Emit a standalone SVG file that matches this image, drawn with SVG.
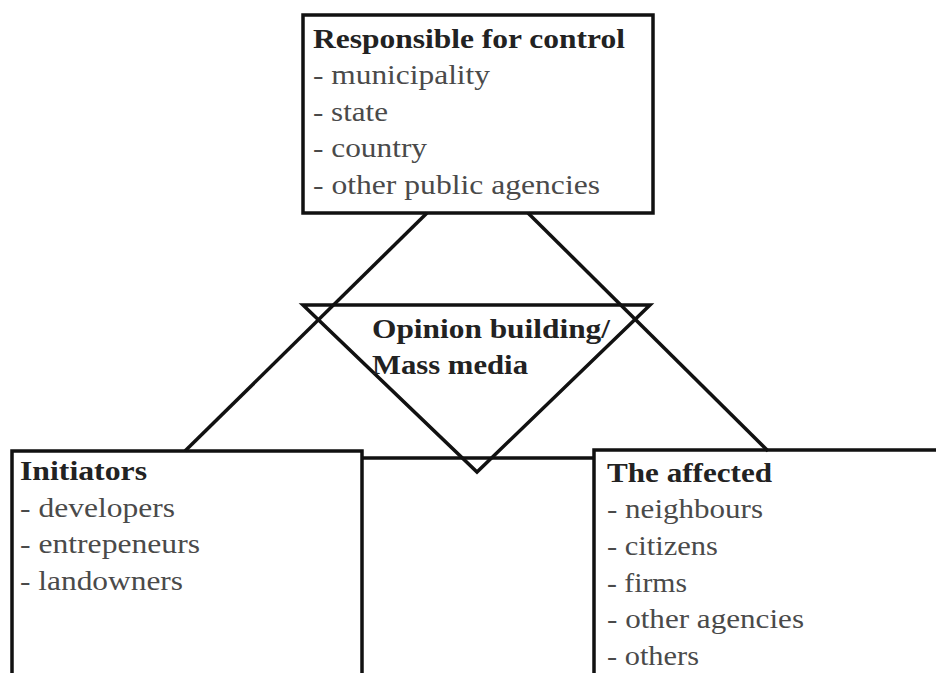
<svg xmlns="http://www.w3.org/2000/svg" width="936" height="673" viewBox="0 0 936 673">
<style>
.box{fill:none;stroke:#111;stroke-width:3.5}
.ln{fill:none;stroke:#111;stroke-width:3.5}
.h{font-family:"Liberation Serif",serif;font-weight:bold;font-size:28px;fill:#222}
.t{font-family:"Liberation Serif",serif;font-size:28px;fill:#4a4a4a}
</style>
<rect width="936" height="673" fill="#fff"/>
<g id="connectors">
<line class="ln" x1="427" y1="213" x2="185" y2="451"/>
<line class="ln" x1="528" y1="213" x2="768" y2="451"/>
<line class="ln" x1="362" y1="458" x2="594" y2="458"/>
</g>
<g id="media">
<polygon class="ln" points="303,305 650,305 477,472"/>
<text class="h" x="372" y="338" textLength="238" lengthAdjust="spacingAndGlyphs">Opinion building/</text>
<text class="h" x="372" y="374" textLength="156" lengthAdjust="spacingAndGlyphs">Mass media</text>
</g>
<g id="control">
<rect class="box" x="303" y="15" width="350" height="198" fill="#fff"/>
<text class="h" x="313" y="48" textLength="312" lengthAdjust="spacingAndGlyphs">Responsible for control</text>
<text class="t" x="313" y="84" textLength="177" lengthAdjust="spacingAndGlyphs">- municipality</text>
<text class="t" x="313" y="121" textLength="75" lengthAdjust="spacingAndGlyphs">- state</text>
<text class="t" x="313" y="157" textLength="114" lengthAdjust="spacingAndGlyphs">- country</text>
<text class="t" x="313" y="194" textLength="287" lengthAdjust="spacingAndGlyphs">- other public agencies</text>
</g>
<g id="initiators">
<rect class="box" x="12" y="451" width="350" height="240"/>
<text class="h" x="20" y="480" textLength="127" lengthAdjust="spacingAndGlyphs">Initiators</text>
<text class="t" x="20" y="517" textLength="155" lengthAdjust="spacingAndGlyphs">- developers</text>
<text class="t" x="20" y="553" textLength="180" lengthAdjust="spacingAndGlyphs">- entrepeneurs</text>
<text class="t" x="20" y="590" textLength="163" lengthAdjust="spacingAndGlyphs">- landowners</text>
</g>
<g id="affected">
<rect class="box" x="594" y="450" width="360" height="240"/>
<text class="h" x="607" y="482" textLength="165" lengthAdjust="spacingAndGlyphs">The affected</text>
<text class="t" x="607" y="518" textLength="156" lengthAdjust="spacingAndGlyphs">- neighbours</text>
<text class="t" x="607" y="555" textLength="111" lengthAdjust="spacingAndGlyphs">- citizens</text>
<text class="t" x="607" y="592" textLength="80" lengthAdjust="spacingAndGlyphs">- firms</text>
<text class="t" x="607" y="628" textLength="197" lengthAdjust="spacingAndGlyphs">- other agencies</text>
<text class="t" x="607" y="665" textLength="92" lengthAdjust="spacingAndGlyphs">- others</text>
</g>
</svg>
